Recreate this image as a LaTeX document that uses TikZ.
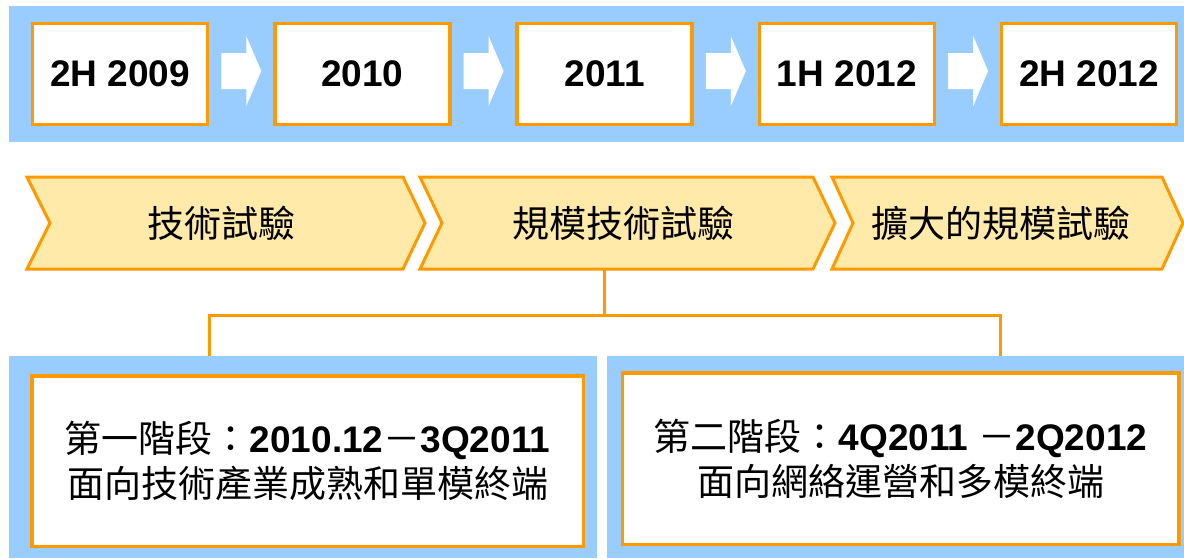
\documentclass[tikz,border=0pt]{standalone}
\usepackage{fontspec}
\setmainfont{Liberation Sans}
\newfontfamily\cjk{Noto Sans CJK TC}
\usetikzlibrary{calc}
\definecolor{bandblue}{HTML}{99CCFF}
\definecolor{orng}{HTML}{FF9900}
\definecolor{chevfill}{HTML}{FFEAAA}
\begin{document}
\begin{tikzpicture}[x=1pt,y=-1pt,
  yearbox/.style={draw=orng,line width=3.5pt,fill=white,minimum width=175pt,minimum height=101pt,inner sep=0pt,font=\fontsize{37}{40}\selectfont\bfseries},
  blockarrow/.style={fill=white,draw=none},
  chev/.style={draw=orng,line width=3pt,fill=chevfill,line join=miter},
  chevtext/.style={inner sep=0pt,font=\fontsize{37}{40}\selectfont\cjk},
  panel/.style={fill=bandblue,draw=none,inner sep=0pt},
  infobox/.style={draw=orng,line width=3.5pt,fill=white,inner sep=0pt,align=center,font=\fontsize{37}{45}\selectfont},
  conn/.style={draw=orng,line width=3pt}]
\useasboundingbox (0,0) rectangle (1184,558);
\fill[white] (0,0) rectangle (1184,558);
% top band
\node[panel,minimum width=1175pt,minimum height=136pt] (band) at (596.5,74) {};
% year boxes
\foreach \i/\t in {0/2H 2009,1/2010,2/2011,3/1H 2012,4/2H 2012}{
  \node[yearbox] (b\i) at ({120+242.3*\i},74) {\t};
}
% block arrows
\foreach \i/\j in {0/1,1/2,2/3,3/4}{
  \fill[blockarrow] ($(b\i.east)+(12,-21)$) -- ($(b\i.east)+(37,-21)$) -- ($(b\i.east)+(37,-38)$)
    -- ($(b\i.east)+(52,-3)$) -- ($(b\i.east)+(37,32)$) -- ($(b\i.east)+(37,15)$)
    -- ($(b\i.east)+(12,15)$) -- cycle;
}
% chevrons
\draw[chev] (27,177) -- (403,177) -- (425,223) -- (403,269) -- (27,269) -- (50,223) -- cycle;
\node[chevtext] (c1) at (221,223) {技術試驗};
\draw[chev] (420,177) -- (813,177) -- (835,223) -- (813,269) -- (420,269) -- (442,223) -- cycle;
\node[chevtext] (c2) at (623,223) {規模技術試驗};
\draw[chev] (832,177) -- (1162,177) -- (1183,223) -- (1162,269) -- (832,269) -- (853,223) -- cycle;
\node[chevtext] (c3) at (1001,223) {擴大的規模試驗};
% bottom panels
\node[panel,minimum width=588pt,minimum height=202pt] (p1) at (303,457) {};
\node[panel,minimum width=577pt,minimum height=202pt] (p2) at (895.5,457) {};
\node[infobox,minimum width=551.5pt,minimum height=170.5pt] (i1) at (307.5,461)
  {{\cjk 第一階段：}\textbf{2010.12}{\cjk －}\textbf{3Q2011}\\{\cjk 面向技術產業成熟和單模終端}};
\node[infobox,minimum width=556.5pt,minimum height=171.5pt] (i2) at (900.5,458.5)
  {{\cjk 第二階段：}\textbf{4Q2011 }{\cjk －}\textbf{2Q2012}\\{\cjk 面向網絡運營和多模終端}};
% connectors
\coordinate (c2b) at (604,269);
\coordinate (j) at (604,315);
\coordinate (p1t) at (209,356);
\coordinate (p2t) at (1000,356);
\draw[conn] (c2b) -- (j);
\draw[conn] (p1t) |- (j) -| (p2t);
\end{tikzpicture}
\end{document}
